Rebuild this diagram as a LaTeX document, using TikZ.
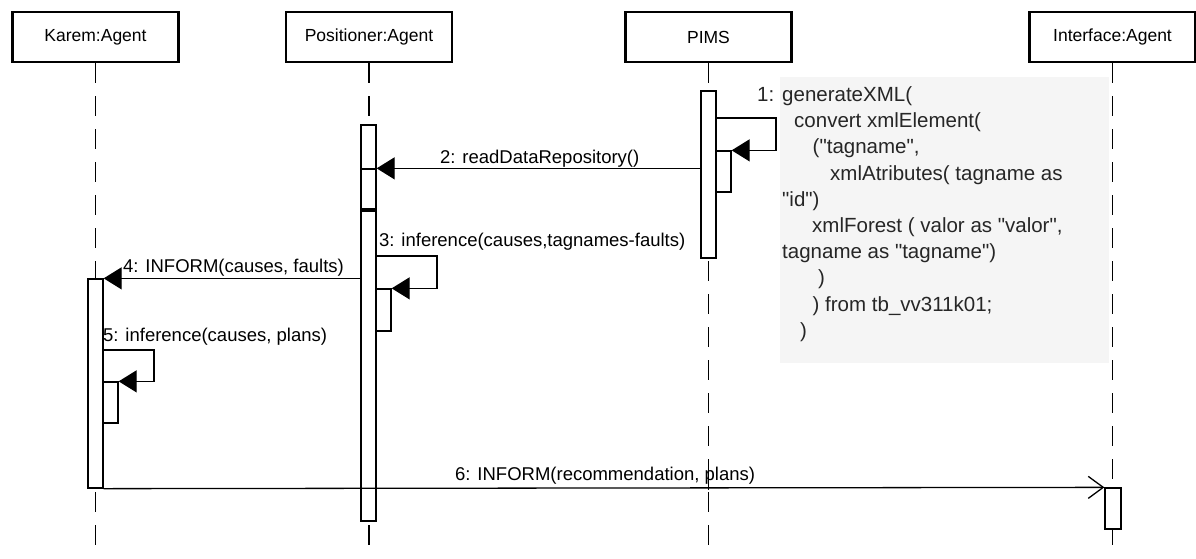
\documentclass[tikz,border=0pt]{standalone}
\usepackage{fontspec}
\setmainfont{Liberation Sans}[Ligatures=TeXOff]
\usetikzlibrary{arrows.meta}
\begin{document}
\begin{tikzpicture}[x=1pt,y=-1pt,
  head/.style={draw, line width=2.4pt, minimum width=166pt, minimum height=50pt, inner sep=0pt, font=\fontsize{17.5}{20}\selectfont},
  life/.style={line width=1.4pt, dash pattern=on 20pt off 13pt},
  act/.style={draw, fill=white, line width=1.3pt, minimum width=15pt, inner sep=0pt},
  msg/.style={line width=1.3pt, -{Triangle[length=18pt,width=22pt]}},
  msgopen/.style={line width=1.3pt, -{Straight Barb[length=15pt,width=22pt,line width=1.3pt]}},
  lbl/.style={anchor=base west, inner sep=0pt, font=\fontsize{18.5}{21}\selectfont},
  notetxt/.style={anchor=base west, inner sep=0pt, font=\fontsize{20.5}{24}\selectfont, text=black!85}
]
\useasboundingbox (0,0) rectangle (1196,558);

% heads
\node[head] (karem) at (95.5,37) {Karem:Agent};
\node[head] (pos) at (369,37) {Positioner:Agent};
\node[head] (pims) at (708.5,37) {PIMS};
\node[head] (iface) at (1112.5,37) {Interface:Agent};

% lifeline ends
\coordinate (kend) at (95.5,558);
\coordinate (pend) at (369,558);
\coordinate (mend) at (708.5,558);
\coordinate (iend) at (1112.5,558);
\draw[life] (karem.south) -- (kend);
\draw[life] (pos.south) -- (pend);
\draw[life] (pims.south) -- (mend);
\draw[life] (iface.south) -- (iend);

% note
\node[fill=black!4, minimum width=329pt, minimum height=286pt, inner sep=0pt, anchor=north west] (note) at (780,77) {};
\node[notetxt] (n0) at (757,101.5) {1:};
\node[notetxt] (n1) at (782,101.5) {generateXML(};
\node[notetxt] (n2) at (794,127.7) {convert xmlElement(};
\node[notetxt] (n3) at (812.5,153.9) {("tagname",};
\node[notetxt] (n4) at (830,180.1) {xmlAtributes( tagname as};
\node[notetxt] (n5) at (782,206.3) {"id")};
\node[notetxt] (n6) at (812,232.5) {xmlForest ( valor as "valor",};
\node[notetxt] (n7) at (782,258.7) {tagname as "tagname")};
\node[notetxt] (n8) at (818,284.9) {)};
\node[notetxt] (n9) at (812.5,311.1) {) from tb\_vv311k01;};
\node[notetxt] (n10) at (800,337.3) {)};

% activations
\node[act, minimum height=167pt] (pa) at (708.5,174.5) {};
\node[act, minimum height=41pt] (paN) at (723.5,171.5) {};
\node[act, minimum height=84pt] (pp1) at (368.5,167) {};
\node[act, minimum height=40pt] (pp1N) at (368.5,189) {};
\node[act, minimum height=310pt] (pp2) at (368.5,366) {};
\node[act, minimum height=42pt] (ppN) at (383.5,310) {};
\node[act, minimum height=209pt] (ka) at (95.5,383.5) {};
\node[act, minimum height=41pt] (kaN) at (110.5,402.5) {};
\node[act, minimum height=41pt, minimum width=16pt] (ia) at (1113,508.5) {};

% loop corners
\coordinate (loop1) at (776,118);
\coordinate (loop3) at (437,256);
\coordinate (loop5) at (154,350);

% messages
\draw[msg] (pa.east |- loop1) -- (loop1) |- (paN.north east);
\draw[msg] (pa.west |- pp1N.north) -- (pp1N.north east);
\draw[msg] (pp2.east |- loop3) -- (loop3) |- (ppN.north east);
\draw[msg] (pp2.west |- ka.north) -- (ka.north east);
\draw[msg] (ka.east |- loop5) -- (loop5) |- (kaN.north east);
\draw[msgopen] (ka.south east) -- (ia.north west);

% labels
\node[lbl] (l2) at (440,163.3) {2: readDataRepository()};
\node[lbl] (l3) at (379,246.7) {3: inference(causes,tagnames-faults)};
\node[lbl] (l4) at (123,272.3) {4: INFORM(causes, faults)};
\node[lbl] (l5) at (103,341.7) {5: inference(causes, plans)};
\node[lbl] (l6) at (455,480) {6: INFORM(recommendation, plans)};
\draw[line width=1.4pt] (708.5,470) -- (708.5,490);
\end{tikzpicture}
\end{document}
